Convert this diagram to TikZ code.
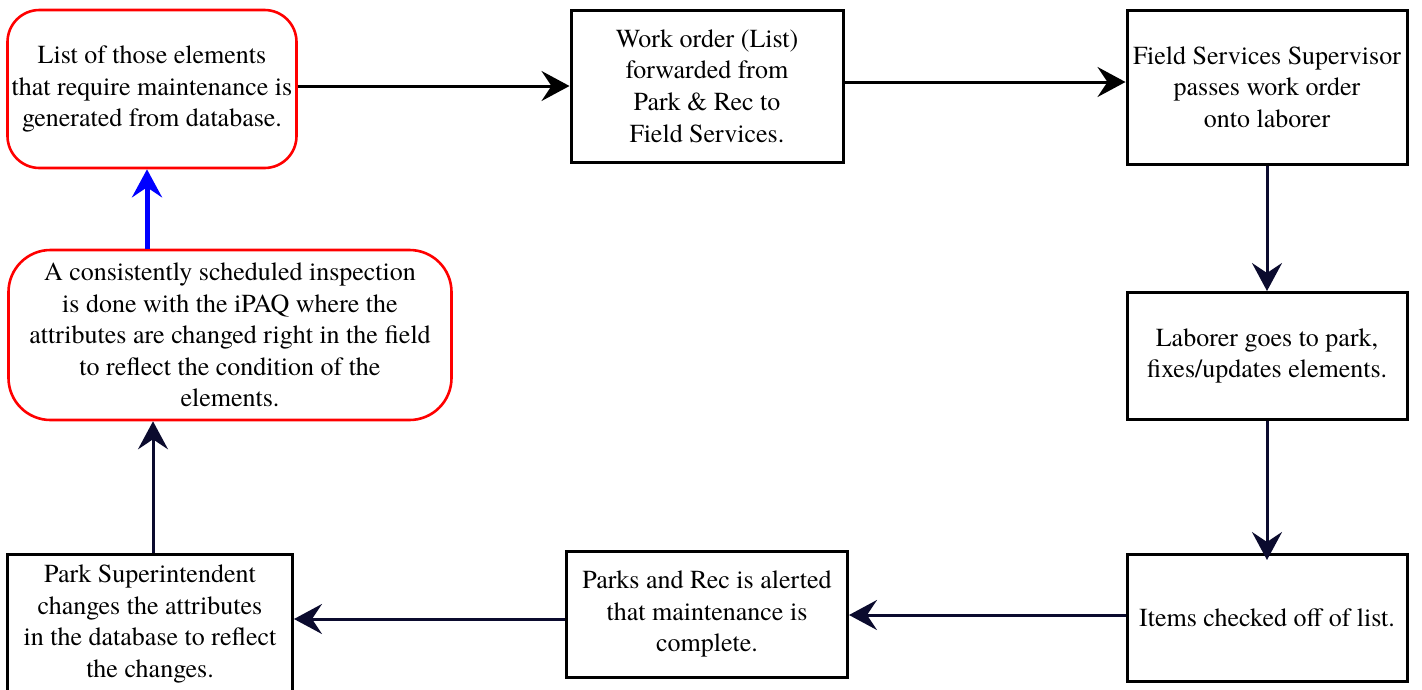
\documentclass[tikz,border=0pt]{standalone}
\usepackage{fontspec}
\newfontfamily\tnr{texgyretermes-regular.otf}
\usetikzlibrary{arrows.meta}
\definecolor{navy}{HTML}{0B0B2E}
\tikzset{
  box/.style={draw=black, line width=3pt, fill=white, align=center, inner sep=0pt,
    font=\tnr\fontsize{26}{31.6}\selectfont},
  redbox/.style={box, draw=red, line width=2.6pt, rounded corners=32pt},
  conn/.style={line width=3pt, -{Stealth[length=28pt,width=30pt,inset=10pt]}},
}
\begin{document}
\begin{tikzpicture}[x=1pt,y=-1pt]
\useasboundingbox (0,0) rectangle (1422,689);
\node[redbox, minimum width=289pt, minimum height=158pt] (A) at (152,89)
  {List of those elements\\that require maintenance is\\generated from database.};
\node[box, minimum width=272pt, minimum height=152pt] (B) at (707,86)
  {Work order (List)\\forwarded from\\Park \& Rec to\\Field Services.};
\node[box, minimum width=280pt, minimum height=154pt] (C) at (1267,87)
  {Field Services Supervisor\\passes work order\\onto laborer};
\node[box, minimum width=280pt, minimum height=127pt] (D) at (1267,356)
  {Laborer goes to park,\\fixes/updates elements.};
\node[box, minimum width=280pt, minimum height=127pt] (E) at (1267,618)
  {Items checked off of list.};
\node[box, minimum width=281pt, minimum height=126pt] (F) at (707,614)
  {Parks and Rec is alerted\\that maintenance is\\complete.};
\node[box, minimum width=285pt, minimum height=140pt] (G) at (150,624)
  {Park Superintendent\\changes the attributes\\in the database to reflect\\the changes.};
\node[redbox, rounded corners=42pt, minimum width=443pt, minimum height=170pt] (H) at (230,335)
  {A consistently scheduled inspection\\is done with the iPAQ where the\\attributes are changed right in the field\\to reflect the condition of the\\elements.};
\draw[conn, black] (A.east |- 0,86) -- (B.west |- 0,86);
\draw[conn, black] (B.east |- 0,82) -- (C.west |- 0,82);
\draw[conn, navy] (C.south) -- (D.north);
\draw[conn, navy] (D.south) -- ([yshift=-7pt]E.north);
\draw[conn, navy] (E.west |- 0,615) -- (F.east |- 0,615);
\draw[conn, navy] (F.west |- 0,619) -- (G.east |- 0,619);
\draw[conn, navy] (G.north -| 153,0) -- (H.south -| 153,0);
\draw[conn, blue, line width=5pt] (H.north -| 147,0) -- (A.south -| 147,0);
\end{tikzpicture}
\end{document}
